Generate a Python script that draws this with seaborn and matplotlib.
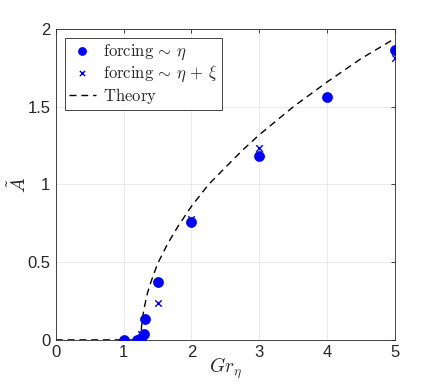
import matplotlib
matplotlib.use("Agg")
import matplotlib.pyplot as plt
import pandas as pd
import seaborn as sns

# data
gr_eta = [1.0, 1.2, 1.22, 1.25, 1.3, 1.32, 1.5, 2.0, 3.0, 4.0, 5.0]
amp_eta = [0.0, 0.0, 0.0, 0.01, 0.04, 0.135, 0.375, 0.76, 1.185, 1.565, 1.865]

gr_xi = [1.25, 1.5, 2.0, 3.0, 5.0]
amp_xi = [0.04, 0.24, 0.78, 1.235, 1.815]

gr_theory = [0.0, 1.0, 1.25, 1.27, 1.3, 1.35, 1.4, 1.5, 1.65, 1.8, 2.0, 2.25, 2.5,
             2.75, 3.0, 3.5, 4.0, 4.5, 5.0]
amp_theory = [0.0, 0.0, 0.0, 0.12, 0.2, 0.3, 0.37, 0.49, 0.62, 0.73, 0.86, 0.999, 1.11,
              1.22, 1.32, 1.5, 1.66, 1.81, 1.94]

sns.set_style("white")
plt.rcParams["font.family"] = ["Liberation Sans", "DejaVu Sans"]
plt.rcParams["mathtext.fontset"] = "cm"

fig = plt.figure(figsize=(4.36, 3.88), dpi=100)
ax = fig.add_axes([0.128, 0.124, 0.778, 0.801])

theory = pd.DataFrame({"x": gr_theory, "y": amp_theory})
sns.lineplot(data=theory, x="x", y="y", ax=ax, color="black", linestyle=(0, (5, 3.5)),
             linewidth=1.0, label=r"$\mathrm{Theory}$", zorder=2)
sns.scatterplot(x=gr_eta, y=amp_eta, ax=ax, color="#0000ff", marker="o", s=52,
                edgecolor="#0000ff", linewidth=0.5,
                label=r"$\mathrm{forcing}\,\sim\,\eta$", zorder=3)
sns.scatterplot(x=gr_xi, y=amp_xi, ax=ax, color="#0000ff", marker="x", s=22,
                linewidth=1.0, label=r"$\mathrm{forcing}\,\sim\,\eta\,+\,\xi$", zorder=4)

ax.set_xlim(0, 5)
ax.set_ylim(0, 2)
ax.set_xticks([0, 1, 2, 3, 4, 5])
ax.set_yticks([0, 0.5, 1, 1.5, 2])
ax.set_yticklabels(["0", "0.5", "1", "1.5", "2"])
ax.grid(True, color="#e6e6e6", linewidth=0.6)
ax.set_axisbelow(True)
for sp in ax.spines.values():
    sp.set_color("#262626")
    sp.set_linewidth(0.6)
ax.tick_params(direction="in", top=True, right=True, length=3, width=0.6,
               colors="#262626", labelsize=12, pad=4)
ax.set_xlabel(r"$Gr_\eta$", fontsize=14, color="#262626")
ax.set_ylabel(r"$\tilde{A}$", fontsize=14, color="#262626")
ax.xaxis.set_label_coords(0.5, -0.05)
ax.yaxis.set_label_coords(-0.075, 0.5)

handles, labels = ax.get_legend_handles_labels()
order = [1, 2, 0]
leg = ax.legend([handles[i] for i in order], [labels[i] for i in order],
                loc="upper left", fontsize=12, frameon=True, fancybox=False,
                edgecolor="#262626", framealpha=1, borderaxespad=0.55,
                handlelength=1.6, handletextpad=0.45, labelspacing=0.1,
                borderpad=0.25, markerscale=0.8)
leg.get_frame().set_linewidth(0.6)

fig.savefig("out.png", dpi=100)
